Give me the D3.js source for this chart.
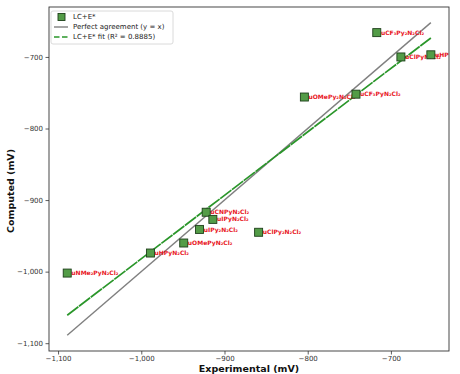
<!DOCTYPE html>
<html>
<head>
<meta charset="utf-8">
<script src="https://cdn.jsdelivr.net/npm/d3@7"></script>
<style>
  body { margin: 0; background: #fff; }
  svg { font-family: "DejaVu Sans", sans-serif; }
</style>
</head>
<body>
<svg id="chart" width="460" height="374"></svg>
<script>
// complexes (the leading "R" sits under the marker, like the original)
const complexes = ['RuNMe₂PyN₂Cl₂', 'RuHPyN₂Cl₂', 'RuOMePyN₂Cl₂', 'RuIPy₂N₂Cl₂', 'RuCNPyN₂Cl₂', 'RuIPyN₂Cl₂',
  'RuClPy₂N₂Cl₂', 'RuOMePy₂N₂Cl₂', 'RuCF₃PyN₂Cl₂', 'RuCF₃Py₂N₂Cl₂', 'RuClPyN₂Cl₂', 'RuHPy₂N₂Cl₂'];
const experimental = [-1089, -989, -949, -930, -922, -914, -859, -804, -742, -717, -688, -652];
const computed = [-1002, -974, -960, -941, -917, -927, -945, -756, -752, -666, -700, -697];
const ticks = [-1100, -1000, -900, -800, -700];
const legendLabels = ['LC+E*', 'Perfect agreement (y = x)', 'LC+E* fit (R² = 0.8885)'];

const config = {margin: {left: 49, top: 7, right: 11, bottom: 23}};
const svg = d3.select('#chart');
const w = 460 - config.margin.left - config.margin.right;
const h = 374 - config.margin.top - config.margin.bottom;

const xScale = d3.scaleLinear().domain([-1110.9, -630.2]).range([0, w]);
const yScale = d3.scaleLinear().domain([-1110.9, -630.2]).range([h, 0]);

const green = '#2a962a';
const markerFill = '#539c47';
const markerEdge = '#1d3f1a';

const chartGroup = svg.append('g').attr('transform', `translate(${config.margin.left},${config.margin.top})`);

svg.append('defs').append('clipPath').attr('id', 'plotClip')
  .append('rect').attr('width', w).attr('height', h);

// axes
const xAxis = d3.axisBottom(xScale).tickValues(ticks).tickSize(3.5).tickPadding(2);
const yAxis = d3.axisLeft(yScale).tickValues(ticks).tickSize(3.5).tickPadding(2.5);
const gx = chartGroup.append('g').attr('transform', `translate(0,${h})`).call(xAxis);
const gy = chartGroup.append('g').call(yAxis);
[gx, gy].forEach(g => {
  g.select('.domain').remove();
  g.selectAll('line').attr('stroke', '#333').attr('stroke-width', 0.8);
  g.selectAll('text').attr('font-size', 7).attr('fill', '#333').attr('font-family', '"DejaVu Sans", sans-serif');
});

// least squares fit from the data
const mx = d3.mean(experimental), my = d3.mean(computed);
const sxy = d3.sum(experimental, (x, i) => (x - mx) * (computed[i] - my));
const sxx = d3.sum(experimental, x => (x - mx) * (x - mx));
const slope = sxy / sxx;
const intercept = my - slope * mx;
const xMin = d3.min(experimental), xMax = d3.max(experimental);

const plot = chartGroup.append('g').attr('clip-path', 'url(#plotClip)');

plot.append('line')
  .attr('x1', xScale(xMin)).attr('y1', yScale(xMin))
  .attr('x2', xScale(xMax)).attr('y2', yScale(xMax))
  .attr('stroke', '#808080').attr('stroke-width', 1.4);

plot.append('line')
  .attr('x1', xScale(xMin)).attr('y1', yScale(slope * xMin + intercept))
  .attr('x2', xScale(xMax)).attr('y2', yScale(slope * xMax + intercept))
  .attr('stroke', green).attr('stroke-width', 1.7).attr('stroke-dasharray', '14,0.8');

// labels, then markers on top
plot.selectAll('.lbl').data(complexes).enter().append('text').classed('lbl', true)
  .attr('x', (d, i) => xScale(experimental[i]) - 0.5)
  .attr('y', (d, i) => yScale(computed[i]))
  .attr('dy', '0.35em')
  .attr('font-size', 6).attr('font-weight', 'bold').attr('fill', '#e8141c')
  .text(d => d);

plot.selectAll('.pt').data(experimental).enter().append('rect').classed('pt', true)
  .attr('x', d => xScale(d) - 4)
  .attr('y', (d, i) => yScale(computed[i]) - 4)
  .attr('width', 8).attr('height', 8)
  .attr('fill', markerFill).attr('stroke', markerEdge).attr('stroke-width', 0.9);

// frame
chartGroup.append('rect').attr('width', w).attr('height', h)
  .attr('fill', 'none').attr('stroke', '#333').attr('stroke-width', 0.9);

// axis titles
svg.append('text').attr('x', config.margin.left + w / 2).attr('y', 372)
  .attr('text-anchor', 'middle').attr('font-size', 9.5).attr('font-weight', 'bold').attr('fill', '#111')
  .text('Experimental (mV)');
svg.append('text').attr('transform', `translate(14,${config.margin.top + h / 2 + 12}) rotate(-90)`)
  .attr('text-anchor', 'middle').attr('font-size', 9.5).attr('font-weight', 'bold').attr('fill', '#111')
  .text('Computed (mV)');

// legend
const legend = chartGroup.append('g').attr('transform', 'translate(2,4)');
legend.append('rect').attr('width', 122).attr('height', 33).attr('rx', 2)
  .attr('fill', '#fff').attr('fill-opacity', 0.85).attr('stroke', '#d0d0d0').attr('stroke-width', 0.8);
const rows = legend.selectAll('.row').data(legendLabels).enter().append('g').classed('row', true)
  .attr('transform', (d, i) => `translate(0,${6 + i * 10})`);
rows.append('text').attr('x', 22).attr('y', 0).attr('dy', '0.35em')
  .attr('font-size', 7).attr('fill', '#222').text(d => d);
legend.select('.row').append('rect').attr('x', 7).attr('y', -3.5).attr('width', 7).attr('height', 7)
  .attr('fill', markerFill).attr('stroke', markerEdge).attr('stroke-width', 0.9);
legend.selectAll('.row').filter((d, i) => i === 1).append('line')
  .attr('x1', 3).attr('x2', 17).attr('stroke', '#808080').attr('stroke-width', 1.4);
legend.selectAll('.row').filter((d, i) => i === 2).append('line')
  .attr('x1', 3).attr('x2', 17).attr('stroke', green).attr('stroke-width', 1.7).attr('stroke-dasharray', '5.5,2.5');
</script>
</body>
</html>
